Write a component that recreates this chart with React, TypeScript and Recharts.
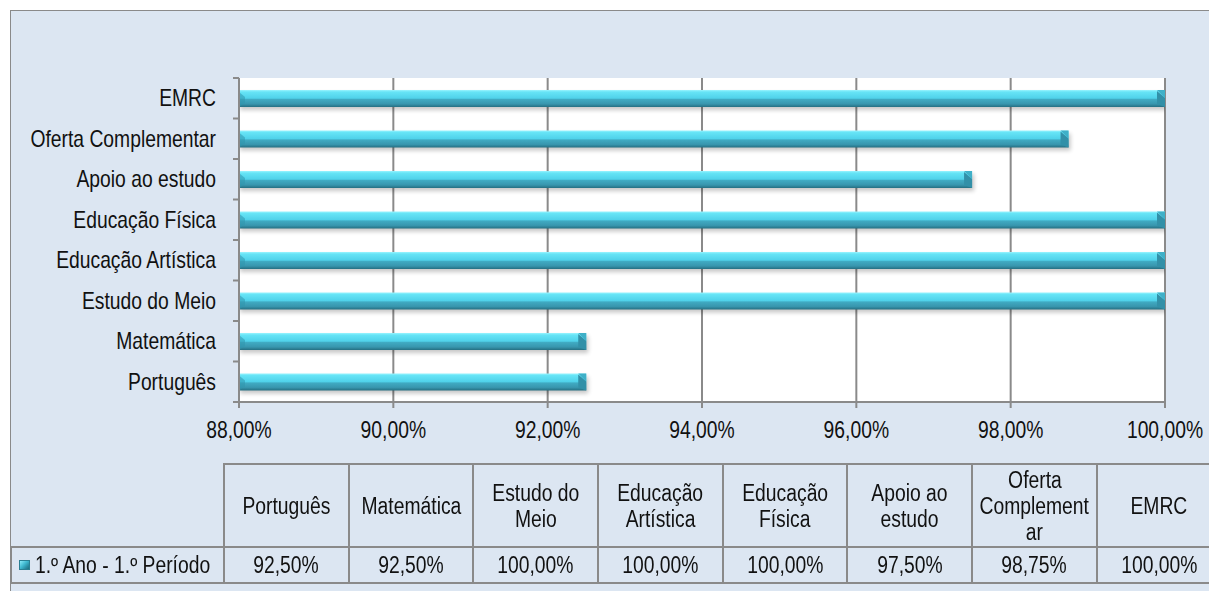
import React from "react";
import { BarChart, Bar, XAxis, YAxis, CartesianGrid } from "recharts";

const subjects = [
  "Português",
  "Matemática",
  "Estudo do Meio",
  "Educação Artística",
  "Educação Física",
  "Apoio ao estudo",
  "Oferta Complementar",
  "EMRC",
];
// header labels of the data table, wrapped the way the reference wraps them
const headerLines = [
  ["Português"],
  ["Matemática"],
  ["Estudo do", "Meio"],
  ["Educação", "Artística"],
  ["Educação", "Física"],
  ["Apoio ao", "estudo"],
  ["Oferta", "Complement", "ar"],
  ["EMRC"],
];
const values = [92.5, 92.5, 100, 100, 100, 97.5, 98.75, 100];
const seriesName = "1.º Ano - 1.º Período";
const xTicks = [88, 90, 92, 94, 96, 98, 100];

const data = subjects.map((s, i) => ({ subject: s, value: values[i] }));

// no narrow font installed, so squeeze Liberation Sans horizontally
const FONT = "'Liberation Sans', Arial, sans-serif";
const FONT_SIZE = 23;
const SQUEEZE = 0.84;
const TEXT = "#111";
const BG = "#dce6f2";
const LINE = "#8a8a8a";

const W = 1209;
const H = 591;
const PLOT_LEFT = 239;
const PLOT_TOP = 78;
const PLOT_BOTTOM = 402;
const PLOT_RIGHT = 1165;

const pct = (v: number) => v.toFixed(2).replace(".", ",") + "%";

const NarrowText = ({ x, y, anchor, children }: any) => (
  <g transform={`translate(${x},${y}) scale(${SQUEEZE},1)`}>
    <text x={0} y={0} textAnchor={anchor} dominantBaseline="central" fontFamily={FONT} fontSize={FONT_SIZE} fill={TEXT}>
      {children}
    </text>
  </g>
);

const SubjectTick = (props: any) => {
  const { y, payload, index } = props;
  const band = (PLOT_BOTTOM - PLOT_TOP) / subjects.length;
  return (
    <g>
      <line x1={PLOT_LEFT - 6} x2={PLOT_LEFT} y1={y - band / 2} y2={y - band / 2} stroke={LINE} strokeWidth={2} />
      {index === 0 && (
        <line x1={PLOT_LEFT - 6} x2={PLOT_LEFT} y1={y + band / 2} y2={y + band / 2} stroke={LINE} strokeWidth={2} />
      )}
      <NarrowText x={PLOT_LEFT - 23} y={y} anchor="end">
        {payload.value}
      </NarrowText>
    </g>
  );
};

const PctTick = (props: any) => {
  const { x, payload } = props;
  return (
    <NarrowText x={x} y={PLOT_BOTTOM + 28} anchor="middle">
      {pct(payload.value)}
    </NarrowText>
  );
};

const BevelBar = (props: any) => {
  const { x, y, width, height } = props;
  if (!width || width <= 0) return null;
  const b = Math.min(8, width / 2);
  const r = x + width;
  return (
    <g>
      <rect x={x + 1} y={y + 3} width={width + 1} height={height} fill="#000" opacity={0.22} filter="url(#barShadow)" />
      <rect x={x} y={y} width={width} height={height} fill="url(#barFill)" />
      <polygon
        points={`${x},${y + 2} ${x + 6},${y + 7} ${x + 6},${y + height - 4} ${x},${y + height}`}
        fill="#2f95ad"
        opacity={0.55}
      />
      <polygon points={`${r - b},${y} ${r},${y} ${r},${y + b}`} fill="#3fb0c8" />
      <polygon
        points={`${r - b},${y + 1} ${r},${y + b} ${r},${y + height} ${r - b},${y + height - 3}`}
        fill="#3290a8"
      />
    </g>
  );
};

const cellBorder = `2px solid ${LINE}`;

const Squeezed = ({ children, origin = "center" }: any) => (
  <span
    style={{
      display: "inline-block",
      whiteSpace: "nowrap",
      flexShrink: 0,
      transform: `scaleX(${SQUEEZE})`,
      transformOrigin: origin,
    }}
  >
    {children}
  </span>
);

const DataTable = () => {
  const labelW = 213;
  const colW = 124.7;
  const cell: React.CSSProperties = {
    fontFamily: FONT,
    fontSize: FONT_SIZE,
    lineHeight: "26px",
    color: TEXT,
    verticalAlign: "middle",
    padding: 0,
    overflow: "hidden",
    border: cellBorder,
  };
  const line: React.CSSProperties = { display: "flex", justifyContent: "center" };
  return (
    <table
      style={{
        position: "absolute",
        left: 10,
        top: 463,
        borderCollapse: "collapse",
        tableLayout: "fixed",
        width: labelW + colW * subjects.length,
      }}
    >
      <colgroup>
        <col style={{ width: labelW }} />
        {subjects.map((s) => (
          <col key={s} style={{ width: colW }} />
        ))}
      </colgroup>
      <tbody>
        <tr style={{ height: 83 }}>
          <td style={{ ...cell, border: "none" }} />
          {headerLines.map((lines, i) => (
            <td key={i} style={cell}>
              {lines.map((l, j) => (
                <div key={j} style={line}>
                  <Squeezed>{l}</Squeezed>
                </div>
              ))}
            </td>
          ))}
        </tr>
        <tr style={{ height: 36 }}>
          <td style={cell}>
            <div style={{ display: "flex", alignItems: "center", paddingLeft: 7 }}>
              <span
                style={{
                  display: "inline-block",
                  width: 11,
                  height: 10,
                  marginRight: 5,
                  flexShrink: 0,
                  background: "linear-gradient(135deg, #8aeafa 0%, #3fb8d0 45%, #2a8ca3 75%, #1f6e80 100%)",
                  border: "1px solid #2a7f93",
                  boxSizing: "border-box",
                }}
              />
              <Squeezed origin="left center">{seriesName}</Squeezed>
            </div>
          </td>
          {values.map((v, i) => (
            <td key={i} style={cell}>
              <div style={line}>
                <Squeezed>{pct(v)}</Squeezed>
              </div>
            </td>
          ))}
        </tr>
      </tbody>
    </table>
  );
};

export default function App() {
  return (
    <div style={{ position: "absolute", left: 0, top: 0, width: W, height: H, overflow: "hidden", background: "#fff" }}>
      <div
        style={{
          position: "absolute",
          left: 10,
          top: 10,
          width: W + 20,
          height: H + 20,
          background: BG,
          border: `1.5px solid ${LINE}`,
          boxSizing: "border-box",
        }}
      />
      <div style={{ position: "absolute", left: 0, top: 0 }}>
        <BarChart
          width={W}
          height={H}
          data={data}
          layout="vertical"
          barSize={17}
          margin={{ top: PLOT_TOP, right: W - PLOT_RIGHT, left: 10, bottom: H - PLOT_BOTTOM - 40 }}
        >
          <defs>
            <linearGradient id="barFill" x1="0" y1="0" x2="0" y2="1">
              <stop offset="0%" stopColor="#9af4ff" />
              <stop offset="12%" stopColor="#66e4f6" />
              <stop offset="48%" stopColor="#50d2ea" />
              <stop offset="56%" stopColor="#40aac2" />
              <stop offset="82%" stopColor="#3896ae" />
              <stop offset="100%" stopColor="#256f82" />
            </linearGradient>
            <filter id="barShadow" x="-5%" y="-50%" width="110%" height="200%">
              <feGaussianBlur stdDeviation="2" />
            </filter>
          </defs>
          <CartesianGrid horizontal={false} stroke={LINE} strokeWidth={2} fill="#ffffff" />
          <XAxis
            type="number"
            domain={[88, 100]}
            ticks={xTicks}
            allowDataOverflow
            height={40}
            axisLine={{ stroke: LINE, strokeWidth: 2 }}
            tickLine={{ stroke: LINE, strokeWidth: 2 }}
            tickSize={6}
            tick={<PctTick />}
            interval={0}
          />
          <YAxis
            type="category"
            dataKey="subject"
            reversed
            width={PLOT_LEFT - 10}
            axisLine={{ stroke: LINE, strokeWidth: 2 }}
            tickLine={false}
            tick={<SubjectTick />}
            interval={0}
          />
          <Bar dataKey="value" name={seriesName} shape={<BevelBar />} isAnimationActive={false} />
        </BarChart>
      </div>
      <DataTable />
    </div>
  );
}
